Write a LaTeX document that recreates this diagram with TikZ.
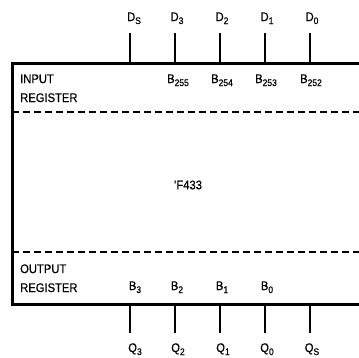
\documentclass[tikz,border=0pt]{standalone}
\usepackage{fontspec}
\setmainfont{Liberation Sans}[FakeStretch=0.9, FakeBold=0.5]
\usepackage{tikz}
\usetikzlibrary{positioning}
\newcommand{\pinsub}[1]{\raisebox{-3bp}{\fontsize{9.5}{9.5}\selectfont #1}}

\begin{document}
\begin{tikzpicture}[
  x=1bp, y=-1bp,
  font=\fontsize{12.5}{19}\selectfont,
  frame/.style={line width=3bp, line join=miter},
  pin/.style={line width=1.8bp},
  sep/.style={line width=1.5bp, dash pattern=on 7bp off 4bp},
  lbl/.style={inner sep=0pt, anchor=base},
  reg/.style={inner sep=0pt, anchor=base west, align=left}
]
\useasboundingbox (0,0) rectangle (359,358);
% chip outline (open on the right)
\coordinate (tr) at (359,63);
\coordinate (tl) at (12,63);
\coordinate (bl) at (12,304);
\coordinate (br) at (359,304);
\draw[frame] (tr) -- (tl) -- (bl) -- (br);
\draw[sep] (12,112) -- (359,112);
\draw[sep] (12,252) -- (359,252);
% register labels
\node[reg] (inreg) at (20,102) {INPUT\\REGISTER};
\node[reg] (outreg) at (20,292) {OUTPUT\\REGISTER};
\node[inner sep=0pt] (chip) at (188,185) {\textquotesingle F433};
% input pins
\coordinate (pds) at (130,33);
\coordinate (pd3) at (175,33);
\coordinate (pd2) at (220,33);
\coordinate (pd1) at (265,33);
\coordinate (pd0) at (310,33);
\draw[pin] (pds) -- (pds |- tl);
\draw[pin] (pd3) -- (pd3 |- tl);
\draw[pin] (pd2) -- (pd2 |- tl);
\draw[pin] (pd1) -- (pd1 |- tl);
\draw[pin] (pd0) -- (pd0 |- tl);
\node[lbl] (ds) at (134,21) {D\pinsub{S}};
\node[lbl] (d3) at (177,21) {D\pinsub{3}};
\node[lbl] (d2) at (222,21) {D\pinsub{2}};
\node[lbl] (d1) at (267,21) {D\pinsub{1}};
\node[lbl] (d0) at (312,21) {D\pinsub{0}};
\node[lbl] (b255) at (178,83) {B\pinsub{255}};
\node[lbl] (b254) at (222,83) {B\pinsub{254}};
\node[lbl] (b253) at (266,83) {B\pinsub{253}};
\node[lbl] (b252) at (311,83) {B\pinsub{252}};
% output pins
\coordinate (pq3) at (130,333);
\coordinate (pq2) at (175,333);
\coordinate (pq1) at (220,333);
\coordinate (pq0) at (265,333);
\coordinate (pqs) at (310,333);
\draw[pin] (pq3 |- bl) -- (pq3);
\draw[pin] (pq2 |- bl) -- (pq2);
\draw[pin] (pq1 |- bl) -- (pq1);
\draw[pin] (pq0 |- bl) -- (pq0);
\draw[pin] (pqs |- bl) -- (pqs);
\node[lbl] (b3) at (135,290) {B\pinsub{3}};
\node[lbl] (b2) at (177,290) {B\pinsub{2}};
\node[lbl] (b1) at (222,290) {B\pinsub{1}};
\node[lbl] (b0) at (267,290) {B\pinsub{0}};
\node[lbl] (q3) at (135,352) {Q\pinsub{3}};
\node[lbl] (q2) at (178,352) {Q\pinsub{2}};
\node[lbl] (q1) at (223,352) {Q\pinsub{1}};
\node[lbl] (q0) at (267,352) {Q\pinsub{0}};
\node[lbl] (qs) at (312,352) {Q\pinsub{S}};
\end{tikzpicture}
\end{document}
